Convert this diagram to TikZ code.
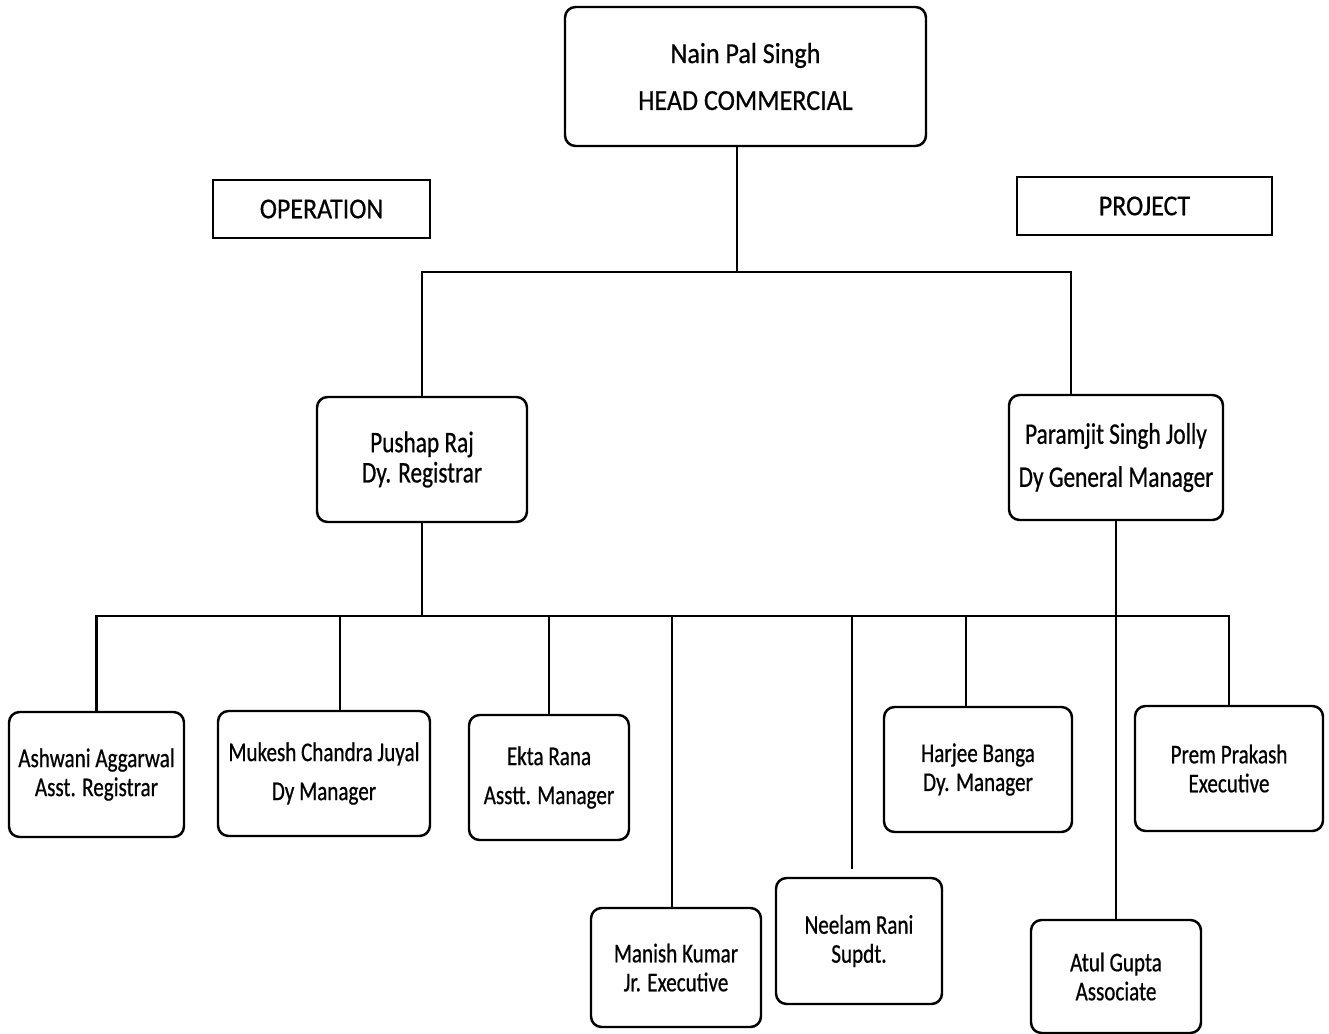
\documentclass[tikz,border=0pt]{standalone}
\usepackage{fontspec}
\setmainfont{Carlito}[FakeStretch=0.78, FakeBold=0.6]
\newfontfamily\headfont{Carlito}[FakeStretch=0.9, FakeBold=0.6]

\begin{document}
\begin{tikzpicture}[
  x=0.02cm, y=-0.02cm,
  size/.style 2 args={minimum width=#1*0.02cm, minimum height=#2*0.02cm},
  box/.style={draw, line width=1.4pt, rounded corners=6pt, align=center, inner sep=0pt, font=\fontsize{15.4}{16.5}\selectfont},
  tag/.style={draw, line width=1.4pt, inner sep=0pt, font=\headfont\fontsize{16.4}{18}\selectfont},
  link/.style={line width=1.4pt}
]
\useasboundingbox (0,0) rectangle (1329,1034);
\node[box, size={361}{139}, font=\headfont\fontsize{16.5}{17.7}\selectfont] (head) at (745.5,76.5) {Nain Pal Singh\\[9pt]HEAD COMMERCIAL};
\node[tag, size={217}{58}] (oper) at (321.5,209) {OPERATION};
\node[tag, size={255}{58}] (proj) at (1144.5,206) {PROJECT};
\node[box, size={210}{125}, font=\fontsize{17}{17.2}\selectfont] (pushap)   at (422,459.5)  {Pushap Raj\\Dy. Registrar};
\node[box, size={214}{125}, font=\fontsize{17}{17.2}\selectfont] (paramjit) at (1116,457.5) {Paramjit Singh Jolly\\[7.3pt]Dy General Manager};
\node[box, size={175}{125}] (ashwani)  at (96.5,774.5) {Ashwani Aggarwal\\Asst. Registrar};
\node[box, size={212}{125}] (mukesh)   at (324,773.5)  {Mukesh Chandra Juyal\\[5.7pt]Dy Manager};
\node[box, size={160}{125}] (ekta)     at (549,777.5)  {Ekta Rana\\[5.7pt]Asstt. Manager};
\node[box, size={170}{119}] (manish)   at (676,967.5)  {Manish Kumar\\Jr. Executive};
\node[box, size={166}{126}] (neelam)   at (859,941)    {Neelam Rani\\Supdt.};
\node[box, size={188}{125}] (harjee)   at (978,769.5)  {Harjee Banga\\Dy. Manager};
\node[box, size={188}{125}] (prem)     at (1229,768.5) {Prem Prakash\\Executive};
\node[box, size={170}{113}] (atul)     at (1116,976.5) {Atul Gupta\\Associate};

\coordinate (split) at (737,272);
\coordinate (bar)   at (421,616);

\draw[link] (head.south -| split) -- (split);
\draw[link] (pushap.north) |- (split) -| ([xshift=-0.9cm]paramjit.north);
\draw[link] (pushap.south) -- (pushap.south |- bar);
\draw[link] (ashwani.north) |- (prem.north |- bar) -- (prem.north);
\foreach \n/\s in {mukesh/0.32cm, ekta/0cm, manish/-0.08cm, harjee/-0.24cm}
  \draw[link] ([xshift=\s]\n.north) -- ([xshift=\s]\n.north |- bar);
\draw[link] ([xshift=-0.14cm]neelam.north |- bar) -- ([xshift=-0.14cm, yshift=0.16cm]neelam.north);
\draw[link] (paramjit.south) -- (atul.north);
\end{tikzpicture}
\end{document}
